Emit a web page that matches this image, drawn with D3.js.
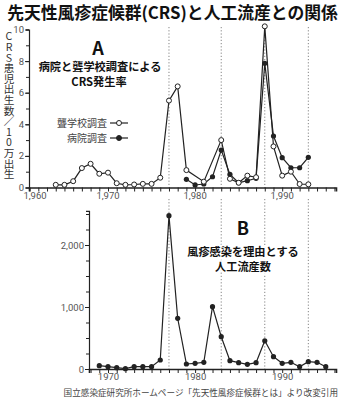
<!DOCTYPE html>
<html><head><meta charset="utf-8">
<script src="https://cdn.jsdelivr.net/npm/d3@7"></script>
<style>
html,body{margin:0;padding:0;background:#fff;}
svg{display:block;}
text{font-family:"Noto Sans CJK JP","Noto Sans",sans-serif;}
.num text{font-family:"Liberation Sans Narrow","Roboto","Liberation Sans",sans-serif;font-size:9.5px;fill:#555;}
</style></head><body>
<svg id="chart" width="345" height="399"></svg>
<script>
// CRS incidence per 100,000 births: deaf-school survey
const schoolYears = [1964,1965,1966,1967,1968,1969,1970,1971,1972,1973,1974,1975,1976,1977,1978,1979,1981,1983,1984,1985,1986,1987,1988,1989,1990,1991,1992,1993];
const schoolRate  = [0.17,0.17,0.4,1.23,1.5,0.87,0.94,0.27,0.17,0.19,0.23,0.23,0.62,5.5,6.4,1.1,0.37,3.0,0.55,0.3,0.75,0.65,10.2,2.6,0.75,1.0,0.22,0.2];
// CRS incidence per 100,000 births: hospital survey
const hospitalYears = [1979,1980,1981,1982,1983,1984,1985,1986,1987,1988,1989,1990,1991,1992,1993];
const hospitalRate  = [0.52,0.16,0.22,0.68,2.37,0.83,0.3,0.43,0.58,7.86,3.26,1.89,1.25,1.25,1.91];
// Induced abortions attributed to rubella infection
const abortionYears = [1969,1970,1971,1972,1973,1974,1975,1976,1977,1978,1979,1980,1981,1982,1983,1984,1985,1986,1987,1988,1989,1990,1991,1992,1993,1994,1995];
const abortionCount = [53,37,21,5,37,37,37,145,2473,818,81,92,108,1005,521,134,102,76,102,456,198,92,108,37,118,108,37];
// Epidemic years marked with dotted guides
const epidemicYears = [1977,1983,1988,1993];
const xTickYears = [1960,1970,1980,1990];
const yTicksA = [0,2,4,6,8,10];
const yTicksB = [0,1000,2000];

const svg = d3.select("#chart");
const ink = "#222";

// shared year-to-pixel mapping
const year = d3.scaleLinear().domain([1970,1990]).range([108,282.2]);
const xA = d3.scaleLinear().domain([year.invert(29), year.invert(336)]).range([29,336]);
const xB = d3.scaleLinear().domain([year.invert(89), year.invert(336)]).range([89,336]);
const yA = d3.scaleLinear().domain([0,10]).range([187.5,29.5]);
const yB = d3.scaleLinear().domain([0,1000]).range([369,307]);
const yBtop = 2550;

// title
svg.append("text").attr("x",172.5).attr("y",19).attr("text-anchor","middle")
  .attr("font-size",16.8).attr("font-weight",700).attr("fill","#111")
  .text("先天性風疹症候群(CRS)と人工流産との関係");

// dotted guides
const guides = svg.append("g").attr("stroke","#777").attr("stroke-width",0.9).attr("stroke-dasharray","1.2,2");
guides.selectAll("line.a").data(epidemicYears).join("line").attr("class","a")
  .attr("x1",d=>xA(d)).attr("x2",d=>xA(d)).attr("y1",27).attr("y2",yA(0));
guides.selectAll("line.b").data(epidemicYears).join("line").attr("class","b")
  .attr("x1",d=>xB(d)).attr("x2",d=>xB(d)).attr("y1",199).attr("y2",yB(0));

// ---- Panel A axes
const gxA = svg.append("g").attr("class","num").attr("transform",`translate(0,${yA(0)})`);
gxA.call(d3.axisBottom(xA).tickValues(d3.range(1961,1997)).tickSize(4).tickFormat(""));
gxA.selectAll("path,line").attr("stroke",ink);
gxA.select("path").attr("stroke-width",1.6);
const gxAl = svg.append("g").attr("class","num").attr("transform",`translate(0,${yA(0)})`);
gxAl.call(d3.axisBottom(xA).tickValues(xTickYears).tickSize(0).tickPadding(4.5));
gxAl.select("path").remove();
gxAl.selectAll(".tick").attr("transform",d=>`translate(${Math.max(xA(d), xA.range()[0]+6)},0)`);

const gyA = svg.append("g").attr("class","num").attr("transform",`translate(${xA.range()[0]},0)`);
gyA.call(d3.axisLeft(yA).tickValues(d3.range(0,11)).tickSize(3).tickFormat(""));
gyA.selectAll("path,line").attr("stroke",ink);
gyA.select("path").attr("stroke-width",1.2);
const gyAl = svg.append("g").attr("class","num").attr("transform",`translate(${xA.range()[0]},0)`);
gyAl.call(d3.axisLeft(yA).tickValues(yTicksA).tickSize(4).tickPadding(1));
gyAl.select("path").remove();
gyAl.selectAll("line").attr("stroke",ink);

// y-axis title (vertical)
svg.append("text").attr("x",9).attr("y",31)
  .style("writing-mode","vertical-rl").style("text-orientation","upright")
  .attr("font-size",10.6).attr("fill","#333").text("CRS患児出生数／10万出生");

// ---- Panel B axes
const gxB = svg.append("g").attr("class","num").attr("transform",`translate(0,${yB(0)})`);
gxB.call(d3.axisBottom(xB).tickValues(d3.range(1968,1997)).tickSize(4).tickFormat(""));
gxB.selectAll("path,line").attr("stroke",ink);
gxB.select("path").attr("stroke-width",1.6);
const gxBl = svg.append("g").attr("class","num").attr("transform",`translate(0,${yB(0)})`);
gxBl.call(d3.axisBottom(xB).tickValues(xTickYears.filter(d=>d>=1970)).tickSize(0).tickPadding(4).tickFormat(d3.format("d")));
gxBl.select("path").remove();

const yBaxis = d3.scaleLinear().domain([0,yBtop]).range([yB(0), yB(yBtop)]);
const gyB = svg.append("g").attr("class","num").attr("transform",`translate(${xB.range()[0]},0)`);
gyB.call(d3.axisLeft(yBaxis).tickValues(d3.range(0,2501,250)).tickSize(3).tickFormat(""));
gyB.selectAll("path,line").attr("stroke",ink);
gyB.select("path").attr("stroke-width",1.2);
const gyBl = svg.append("g").attr("class","num").attr("transform",`translate(${xB.range()[0]},0)`);
gyBl.call(d3.axisLeft(yBaxis).tickValues(yTicksB).tickSize(4).tickPadding(1).tickFormat(d3.format(",")));
gyBl.select("path").remove();
gyBl.selectAll("line").attr("stroke",ink);

// ---- panel labels (white halo hides guides behind text)
function label(x,y,txt,size,weight){
  return svg.append("text").attr("x",x).attr("y",y).attr("text-anchor","middle")
    .attr("font-size",size).attr("font-weight",weight).attr("fill","#111")
    .attr("stroke","#fff").attr("stroke-width",3).attr("paint-order","stroke").text(txt);
}
label(98,55,"A",18,700);
label(100,71,"病院と聾学校調査による",11.2,700);
label(99,86,"CRS発生率",11.2,700);
label(243,235,"B",18,700);
label(243,256,"風疹感染を理由とする",11.2,700);
label(243,271,"人工流産数",11.2,700);

// ---- data series
const school = schoolYears.map((y,i)=>({y,v:schoolRate[i]}));
const hospital = hospitalYears.map((y,i)=>({y,v:hospitalRate[i]}));
const abortion = abortionYears.map((y,i)=>({y,v:abortionCount[i]}));

const lineA = d3.line().x(d=>xA(d.y)).y(d=>yA(d.v));
const lineB = d3.line().x(d=>xB(d.y)).y(d=>yB(d.v));

svg.append("path").datum(hospital).attr("d",lineA).attr("fill","none").attr("stroke",ink).attr("stroke-width",1.2);
svg.append("path").datum(school).attr("d",lineA).attr("fill","none").attr("stroke",ink).attr("stroke-width",1.2);
svg.append("g").selectAll("circle").data(hospital).join("circle")
  .attr("cx",d=>xA(d.y)).attr("cy",d=>yA(d.v)).attr("r",2.6).attr("fill",ink);
svg.append("g").selectAll("circle").data(school).join("circle")
  .attr("cx",d=>xA(d.y)).attr("cy",d=>yA(d.v)).attr("r",2.5).attr("fill","#fff").attr("stroke",ink).attr("stroke-width",1);

svg.append("path").datum(abortion).attr("d",lineB).attr("fill","none").attr("stroke",ink).attr("stroke-width",1.2);
svg.append("g").selectAll("circle").data(abortion).join("circle")
  .attr("cx",d=>xB(d.y)).attr("cy",d=>yB(d.v)).attr("r",2.6).attr("fill",ink);

// ---- legend
const legend = [{name:"聾学校調査",open:true,cy:123},{name:"病院調査",open:false,cy:138}];
const lg = svg.append("g");
lg.selectAll("text").data(legend).join("text")
  .attr("x",107).attr("y",d=>d.cy+3.5).attr("text-anchor","end")
  .attr("font-size",10).attr("fill","#444").text(d=>d.name);
lg.selectAll("line").data(legend).join("line")
  .attr("x1",110).attr("x2",128).attr("y1",d=>d.cy).attr("y2",d=>d.cy).attr("stroke",ink).attr("stroke-width",1.2);
lg.selectAll("circle").data(legend).join("circle")
  .attr("cx",119).attr("cy",d=>d.cy).attr("r",2.5)
  .attr("fill",d=>d.open?"#fff":ink).attr("stroke",ink).attr("stroke-width",1);

// source note
svg.append("text").attr("x",338).attr("y",396).attr("text-anchor","end")
  .attr("font-size",8.6).attr("fill","#444")
  .text("国立感染症研究所ホームページ「先天性風疹症候群とは」より改変引用");
</script>
</body></html>
